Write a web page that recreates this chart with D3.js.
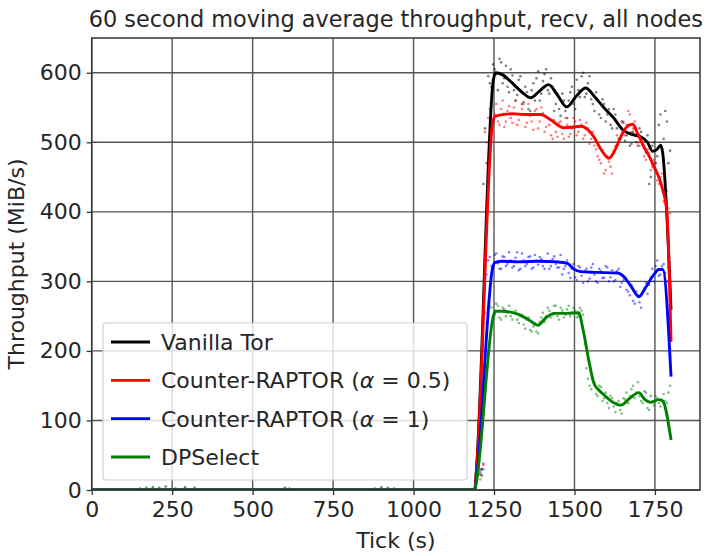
<!DOCTYPE html>
<html><head><meta charset="utf-8">
<script src="https://cdn.jsdelivr.net/npm/d3@7"></script>
<style>
body{margin:0;background:#fff}
svg{display:block}
text{font-family:"DejaVu Sans",sans-serif;fill:#262626}
</style>
</head><body>
<svg id="chart" width="708" height="556"></svg>
<script>
const chartTitle = "60 second moving average throughput, recv, all nodes";
const xLabel = "Tick (s)";
const yLabel = "Throughput (MiB/s)";
const xTicks = [0, 250, 500, 750, 1000, 1250, 1500, 1750];
const yTicks = [0, 100, 200, 300, 400, 500, 600];
const seriesNames = ["Vanilla Tor", "Counter-RAPTOR", "Counter-RAPTOR", "DPSelect"];
const seriesAlpha = [null, "0.5", "1", null];
const seriesColors = ["#000000", "#ff0000", "#0000ff", "#008000"];

// 60 s moving averages (tick, MiB/s)
const vanillaTicks = [0,1190,1196,1248,1255,1277,1307,1337,1364,1392,1420,1447,1476,1505,1535,1562,1591,1622,1650,1681,1706,1727,1743,1757,1768,1774,1800];
const vanillaAvg   = [0,0,35,590,600,597,585,572,564,574,583,568,551,566,578,566,550,535,518,511,508,500,487,490,496,485,259];
const raptor05Ticks = [0,1190,1196,1245,1252,1277,1307,1347,1395,1427,1467,1497,1519,1542,1560,1582,1607,1627,1644,1662,1681,1697,1715,1732,1747,1762,1774,1787,1800];
const raptor05Avg   = [0,0,30,525,537,540,541,540,540,532,521,522,523,518,508,490,477,490,508,522,526,512,494,480,465,450,432,400,213];
const raptor1Ticks = [0,1190,1196,1246,1252,1277,1327,1387,1447,1478,1497,1519,1567,1634,1657,1677,1700,1722,1747,1762,1774,1800];
const raptor1Avg   = [0,0,18,320,327,329,328,329,328,326,318,314,313,312,305,292,278,292,310,317,317,163];
const dpselectTicks = [0,1190,1196,1248,1254,1277,1324,1357,1386,1412,1436,1477,1513,1527,1545,1560,1577,1591,1617,1644,1672,1700,1719,1737,1762,1774,1800];
const dpselectAvg   = [0,0,14,250,257,257,253,245,237,248,254,254,255,230,185,154,143,137,127,122,132,140,130,126,130,128,72];

// raw per-tick samples (scatter), two interleaved sample sets
const rawTicksA = [1207,1217,1227,1237,1247,1257,1267,1277,1287,1297,1307,1317,1327,1337,1347,1357,1367,1377,1387,1397,1407,1417,1427,1437,1447,1457,1467,1477,1487,1497,1507,1517,1527,1537,1547,1557,1567,1577,1587,1597,1607,1617,1627,1637,1647,1657,1667,1677,1687,1697,1707,1717,1727,1737,1747,1757,1767,1777,1787,1797];
const vanillaRawA = [22,440,470,585,612,598,620,585,610,572,596,560,590,555,580,548,575,560,602,570,598,575,592,545,570,538,560,535,572,555,590,565,600,570,595,555,572,540,562,530,548,520,540,505,530,502,525,498,520,495,515,492,510,450,500,480,540,505,530,488];
const raptor05RawA = [28,36,500,548,530,555,525,560,530,552,528,560,532,548,522,555,530,545,520,550,515,535,510,532,508,530,505,525,512,535,510,532,505,528,498,515,490,475,488,460,472,455,495,500,520,510,545,515,530,500,505,480,490,460,475,445,450,415,430,398];
const raptor1RawA = [25,38,310,335,320,340,318,336,322,342,320,334,316,340,322,335,318,338,324,332,318,340,322,336,320,338,318,330,305,325,302,320,298,318,304,325,300,318,305,322,300,316,302,318,298,306,285,295,268,280,262,290,282,305,300,330,310,325,300,315];
const dpselectRawA = [15,30,240,265,250,268,248,262,250,265,245,258,240,252,232,248,228,240,225,248,242,262,248,265,250,262,248,260,250,262,248,262,252,175,150,160,138,150,128,140,118,132,112,128,110,130,125,145,132,155,128,142,118,135,122,132,120,138,125,150];
const rawTicksB = [1212,1222,1232,1242,1252,1262,1272,1282,1292,1302,1312,1322,1332,1342,1352,1362,1372,1382,1392,1402,1412,1422,1432,1442,1452,1462,1472,1482,1492,1502,1512,1522,1532,1542,1552,1562,1572,1582,1592,1602,1612,1622,1632,1642,1652,1662,1672,1682,1692,1702,1712,1722,1732,1742,1752,1762,1772,1782,1792];
const vanillaRawB = [30,520,595,580,605,575,615,592,580,605,575,568,595,558,572,545,585,592,560,588,605,570,580,555,548,570,545,560,580,548,575,595,565,585,562,545,560,535,555,540,525,548,520,505,528,510,495,515,500,520,498,485,440,495,470,525,490,545,470];
const raptor05RawB = [20,515,535,552,540,530,548,522,545,535,550,525,540,555,528,538,518,548,530,542,522,525,505,515,528,512,535,508,520,530,515,525,510,520,505,495,480,470,455,480,465,485,510,505,530,525,540,520,512,495,500,475,485,465,470,440,455,425,405];
const raptor1RawB = [30,325,330,322,338,326,318,335,325,330,322,342,318,330,325,336,320,330,335,322,328,318,332,325,320,310,322,312,318,306,322,308,315,300,320,310,298,315,305,320,306,300,315,292,302,288,280,272,285,270,285,298,295,318,322,308,322,312,320];
const dpselectRawB = [22,255,250,262,252,265,245,260,255,250,255,245,250,238,245,230,235,228,242,255,250,258,252,265,245,258,252,265,255,258,250,258,210,160,145,155,135,148,132,125,135,120,125,115,132,140,135,150,140,135,125,140,115,128,135,125,130,128,140];
// low activity before the main run
const idleTicks = [150,170,190,210,230,260,290,320,600,615,880,900,920,940];
const idleVals  = [2,3,4,3,5,2,4,3,3,2,2,4,3,2];

const avgTicks = [vanillaTicks, raptor05Ticks, raptor1Ticks, dpselectTicks];
const avgVals = [vanillaAvg, raptor05Avg, raptor1Avg, dpselectAvg];
const rawSets = [
  [[rawTicksA, vanillaRawA], [rawTicksB, vanillaRawB]],
  [[rawTicksA, raptor05RawA], [rawTicksB, raptor05RawB]],
  [[rawTicksA, raptor1RawA], [rawTicksB, raptor1RawB]],
  [[rawTicksA, dpselectRawA], [rawTicksB, dpselectRawB]]
];

const svg = d3.select("#chart");
const L = 91.7, R = 700, T = 38, B = 490;
const x = d3.scaleLinear().domain([0, 1890]).range([L, R]);
const y = d3.scaleLinear().domain([0, 650]).range([B, T]);

svg.append("defs").append("clipPath").attr("id","clip")
  .append("rect").attr("x",L).attr("y",T-2).attr("width",R-L).attr("height",B-T+2);

// grid
const grid = svg.append("g");
grid.selectAll(".gx").data(xTicks).join("line")
  .attr("x1",d=>x(d)).attr("x2",d=>x(d)).attr("y1",T).attr("y2",B)
  .attr("stroke","#555").attr("stroke-width",1.4);
grid.selectAll(".gy").data(yTicks).join("line")
  .attr("y1",d=>y(d)).attr("y2",d=>y(d)).attr("x1",L).attr("x2",R)
  .attr("stroke","#555").attr("stroke-width",1.4);

// axes
const xAxis = d3.axisBottom(x).tickValues(xTicks).tickSize(5).tickPadding(6).tickFormat(d3.format("d"));
const yAxis = d3.axisLeft(y).tickValues(yTicks).tickSize(5).tickPadding(5).tickFormat(d3.format("d"));
const gx = svg.append("g").attr("transform",`translate(0,${B})`).call(xAxis);
const gy = svg.append("g").attr("transform",`translate(${L},0)`).call(yAxis);
[gx, gy].forEach(g => {
  g.select(".domain").remove();
  g.selectAll(".tick line").attr("stroke","#333").attr("stroke-width",1.3);
  g.selectAll(".tick text").attr("font-size",22).attr("font-family","DejaVu Sans").attr("fill","#262626");
});

const plot = svg.append("g").attr("clip-path","url(#clip)");

// scatter
rawSets.forEach((sets, i) => {
  sets.forEach(([tks, vals]) => {
    plot.append("g").selectAll("circle").data(vals).join("circle")
      .attr("cx",(d,j)=>x(tks[j])).attr("cy",d=>y(d)).attr("r",1.3)
      .attr("fill",seriesColors[i]).attr("opacity",0.5);
  });
});
plot.append("g").selectAll("circle").data(idleVals).join("circle")
  .attr("cx",(d,j)=>x(idleTicks[j])).attr("cy",d=>y(d)).attr("r",1.3)
  .attr("fill","#1a5a1a").attr("opacity",0.7);

// lines
avgVals.forEach((vals, i) => {
  const pts = vals.map((v,j)=>[avgTicks[i][j], v]);
  plot.append("path").datum(pts)
    .attr("fill","none").attr("stroke",seriesColors[i]).attr("stroke-width",2.9)
    .attr("stroke-linejoin","round")
    .attr("d", d3.line().x(d=>x(d[0])).y(d=>y(d[1])).curve(d3.curveMonotoneX));
});

// frame
svg.append("rect").attr("x",L).attr("y",T).attr("width",R-L).attr("height",B-T)
  .attr("fill","none").attr("stroke","#333").attr("stroke-width",1.5);

// title & labels
svg.append("text").attr("x",(L+R)/2).attr("y",27).attr("text-anchor","middle")
  .attr("font-size",22.4).text(chartTitle);
svg.append("text").attr("x",(L+R)/2).attr("y",548).attr("text-anchor","middle")
  .attr("font-size",22).text(xLabel);
svg.append("text").attr("transform",`translate(24,${(T+B)/2}) rotate(-90)`).attr("text-anchor","middle")
  .attr("font-size",22).text(yLabel);

// legend
const lg = svg.append("g");
lg.append("rect").attr("x",103).attr("y",323).attr("width",364).attr("height",157).attr("rx",3)
  .attr("fill","#fff").attr("fill-opacity",0.8).attr("stroke","#d0d0d0").attr("stroke-width",1.2);
const rowY = d3.scalePoint().domain(d3.range(seriesNames.length)).range([342, 457]);
seriesNames.forEach((name, i) => {
  const yy = rowY(i);
  lg.append("line").attr("x1",111).attr("x2",150).attr("y1",yy).attr("y2",yy)
    .attr("stroke",seriesColors[i]).attr("stroke-width",2.9);
  const t = lg.append("text").attr("x",161).attr("y",yy).attr("dy","0.36em").attr("font-size",22);
  if (seriesAlpha[i] === null) { t.text(name); }
  else {
    t.append("tspan").text(name + " (");
    t.append("tspan").attr("font-style","italic").text("α");
    t.append("tspan").text(" = " + seriesAlpha[i] + ")");
  }
});
</script>
</body></html>
